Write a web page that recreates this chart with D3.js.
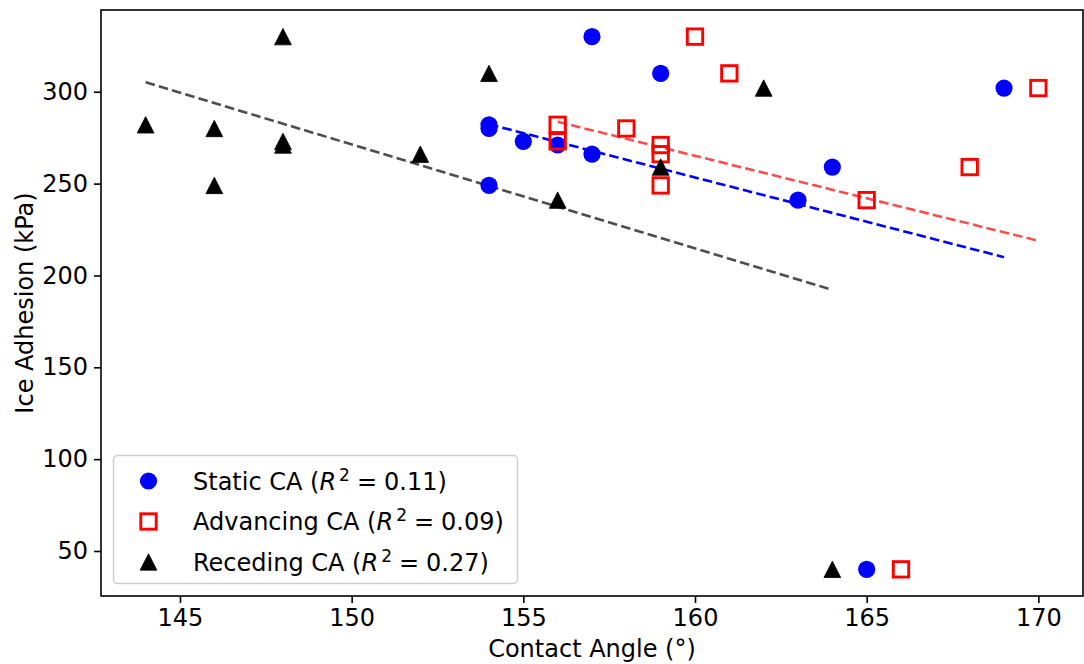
<!DOCTYPE html>
<html>
<head>
<meta charset="utf-8">
<script src="https://cdn.jsdelivr.net/npm/d3@7"></script>
<style>
  html, body { margin: 0; padding: 0; background: #fff; }
  svg { display: block; font-family: "DejaVu Sans", sans-serif; }
</style>
</head>
<body>
<svg id="chart" width="1084" height="664"></svg>
<script>
// Ice adhesion of each coating (kPa)
const adhesion = [282, 280, 249, 330, 273, 271, 266, 310, 241, 259, 302, 40];
// Contact angles (degrees) per coating, one array per measurement type
const staticCA    = [154, 154, 154, 157, 155, 156, 157, 159, 163, 164, 169, 165];
const advancingCA = [156, 158, 159, 160, 156, 159, 159, 161, 165, 168, 170, 166];
const recedingCA  = [144, 146, 146, 148, 148, 148, 152, 154, 156, 159, 162, 164];

const seriesNames = ["Static CA", "Advancing CA", "Receding CA"];
const r2Labels = ["0.11", "0.09", "0.27"];
const xTicks = [145, 150, 155, 160, 165, 170];
const yTicks = [50, 100, 150, 200, 250, 300];

const W = 1084, H = 664;
const m = { left: 101, right: 1, top: 10, bottom: 68 };
const svg = d3.select("#chart");

const allX = staticCA.concat(advancingCA, recedingCA);
const [x0, x1] = d3.extent(allX);
const [y0, y1] = d3.extent(adhesion);
const xPad = (x1 - x0) * 0.05, yPad = (y1 - y0) * 0.05;

const x = d3.scaleLinear().domain([x0 - xPad, x1 + xPad]).range([m.left, W - m.right]);
const y = d3.scaleLinear().domain([y0 - yPad, y1 + yPad]).range([H - m.bottom, m.top]);

// least-squares fit drawn across each series' x range
function fit(xs, ys) {
  const mx = d3.mean(xs), my = d3.mean(ys);
  let sxy = 0, sxx = 0;
  xs.forEach((v, i) => { sxy += (v - mx) * (ys[i] - my); sxx += (v - mx) ** 2; });
  const b = sxy / sxx, a = my - b * mx;
  const [lo, hi] = d3.extent(xs);
  return [[lo, a + b * lo], [hi, a + b * hi]];
}

const series = [
  { name: seriesNames[0], xs: staticCA,    r2: r2Labels[0], color: "#0000ff", fitColor: "#0000ff", shape: "circle" },
  { name: seriesNames[1], xs: advancingCA, r2: r2Labels[1], color: "#ff0000", fitColor: "#ff4d4d", shape: "square" },
  { name: seriesNames[2], xs: recedingCA,  r2: r2Labels[2], color: "#000000", fitColor: "#4d4d4d", shape: "triangle" }
];

const plot = svg.append("g");

function drawMarker(g, shape, color) {
  if (shape === "circle") {
    g.append("circle").attr("r", 8.6).attr("fill", color);
  } else if (shape === "square") {
    g.append("rect").attr("x", -7.7).attr("y", -7.7).attr("width", 15.4).attr("height", 15.4)
      .attr("fill", "none").attr("stroke", color).attr("stroke-width", 2.9);
  } else {
    g.append("path").attr("d", "M0,-8.2L8.4,8.2L-8.4,8.2Z").attr("fill", color)
      .attr("stroke", color).attr("stroke-width", 0.8).attr("stroke-linejoin", "miter");
  }
}

// fit lines
series.forEach(s => {
  const pts = fit(s.xs, adhesion);
  plot.append("line")
    .attr("x1", x(pts[0][0])).attr("y1", y(pts[0][1]))
    .attr("x2", x(pts[1][0])).attr("y2", y(pts[1][1]))
    .attr("stroke", s.fitColor).attr("stroke-width", 2.6)
    .attr("stroke-dasharray", "9.6,4.2");
});

// scatter points, drawn in series order
series.forEach(s => {
  s.xs.forEach((v, i) => {
    const g = plot.append("g").attr("transform", `translate(${x(v)},${y(adhesion[i])})`);
    drawMarker(g, s.shape, s.color);
  });
});

// axes
const xAxis = svg.append("g").attr("transform", `translate(0,${H - m.bottom})`)
  .call(d3.axisBottom(x).tickValues(xTicks).tickSize(7).tickPadding(6).tickFormat(d3.format("d")));
const yAxis = svg.append("g").attr("transform", `translate(${m.left},0)`)
  .call(d3.axisLeft(y).tickValues(yTicks).tickSize(7).tickPadding(6).tickFormat(d3.format("d")));
[xAxis, yAxis].forEach(a => {
  a.select(".domain").remove();
  a.selectAll(".tick line").attr("stroke", "#000").attr("stroke-width", 1.6);
  a.selectAll(".tick text").attr("fill", "#000").style("font-size", "24px")
    .style("font-family", "DejaVu Sans, sans-serif");
});

// frame
svg.append("rect")
  .attr("x", m.left).attr("y", m.top)
  .attr("width", W - m.right - m.left).attr("height", H - m.bottom - m.top)
  .attr("fill", "none").attr("stroke", "#000").attr("stroke-width", 1.6);

// axis titles
svg.append("text").attr("x", (m.left + W - m.right) / 2).attr("y", 657)
  .attr("text-anchor", "middle").style("font-size", "24px").text("Contact Angle (°)");
svg.append("text")
  .attr("transform", `translate(33,${(m.top + H - m.bottom) / 2}) rotate(-90)`)
  .attr("text-anchor", "middle").style("font-size", "24px").text("Ice Adhesion (kPa)");

// legend
const leg = svg.append("g");
leg.append("rect").attr("x", 113.5).attr("y", 455.5).attr("width", 404).attr("height", 128)
  .attr("rx", 4).attr("fill", "#fff").attr("fill-opacity", 0.8)
  .attr("stroke", "#cccccc").attr("stroke-width", 1.4);
series.forEach((s, i) => {
  const cy = 481 + i * 40.5;
  const g = leg.append("g").attr("transform", `translate(148.5,${cy})`);
  drawMarker(g, s.shape, s.color);
  const t = leg.append("text").attr("x", 193).attr("y", cy + 8.5).style("font-size", "24px");
  t.append("tspan").text(s.name + " (");
  t.append("tspan").style("font-style", "italic").text("R");
  t.append("tspan").attr("dy", -9).style("font-size", "17px").attr("dx", 3).text("2");
  t.append("tspan").attr("dy", 9).attr("dx", 7).text("=");
  t.append("tspan").attr("dx", 7).text(s.r2 + ")");
});
</script>
</body>
</html>
